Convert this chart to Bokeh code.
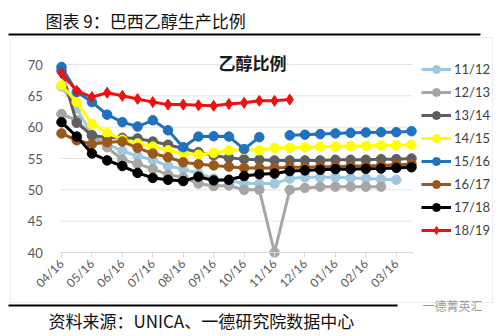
import math
from bokeh.plotting import figure
from bokeh.models import (Label, BoxAnnotation, Legend, LegendItem, FixedTicker,
                          Range1d, LinearAxis)
from bokeh.embed import file_html
from bokeh.resources import INLINE

month_labels = ["04/16", "05/16", "06/16", "07/16", "08/16", "09/16",
                "10/16", "11/16", "12/16", "01/16", "02/16", "03/16"]
idx = list(range(24))
nan = float("nan")

s_11_12 = [66.5, 63.0, 58.8, 57.3, 56.2, 55.4, 54.8, 53.8, 53.3, 52.6, 51.8, 51.5,
           51.0, 51.0, 51.0, 51.8, 52.0, 52.0, 52.0, 51.9, 51.8, 51.7, 51.6, nan]
s_12_13 = [62.1, 61.1, 58.6, 56.8, 54.8, 54.15, 53.35, 52.4, 52.0, 51.0, 50.6, 50.7,
           50.0, 50.0, 40.0, 50.0, 50.3, 50.5, 50.5, 50.5, 50.5, 50.5, nan, nan]
s_13_14 = [69.0, 60.7, 58.7, 58.3, 58.3, 58.2, 57.7, 57.2, 56.6, 56.0, 55.5, 55.1,
           54.9, 54.8, 54.7, 54.7, 54.7, 54.7, 54.8, 54.8, 54.8, 54.9, 54.9, 55.0]
s_14_15 = [66.7, 64.0, 60.5, 59.1, 58.0, 57.4, 56.9, 56.3, 55.8, 55.6, 55.9, 56.3,
           56.4, 56.3, 56.7, 56.7, 56.8, 56.9, 56.9, 57.0, 57.0, 57.1, 57.1, 57.2]
s_15_16 = [69.6, 65.6, 64.0, 62.0, 60.8, 60.1, 61.1, 59.5, 56.8, 58.5, 58.55, 58.5,
           56.5, 58.4, nan, 58.7, 58.8, 58.9, 59.0, 59.1, 59.15, 59.2, 59.2, 59.35]
s_16_17 = [59.0, 57.9, 57.3, 57.6, 57.7, 56.7, 55.8, 55.2, 54.4, 54.1, 53.9, 53.7,
           53.5, 53.5, 53.5, 53.6, 53.6, 53.7, 53.7, 53.8, 53.8, 53.9, 54.0, 54.1]
s_17_18 = [60.8, 58.5, 55.8, 54.7, 53.8, 52.7, 51.9, 51.6, 51.4, 52.1, 51.5, 51.6,
           52.2, 52.5, 52.6, 53.0, 53.1, 53.2, 53.3, 53.3, 53.35, 53.4, 53.5, 53.6]
s_18_19 = [68.6, 65.8, 64.8, 65.5, 65.0, 64.5, 64.0, 63.6, 63.6, 63.5, 63.4, 63.7,
           63.9, 64.2, 64.2, 64.4, nan, nan, nan, nan, nan, nan, nan, nan]

series_names = ["11/12", "12/13", "13/14", "14/15", "15/16", "16/17", "17/18", "18/19"]
series_values = [s_11_12, s_12_13, s_13_14, s_14_15, s_15_16, s_16_17, s_17_18, s_18_19]
colors = ["#9DC8E0", "#A6A6A6", "#5F5F5F", "#FFFF00", "#1F72BE", "#9C571C", "#000000", "#F01010"]
markers = ["circle"] * 7 + ["diamond"]
y_ticks = [40, 45, 50, 55, 60, 65, 70]

W, H = 500, 336
# plot area in canvas pixels
PX0, PX1 = 61, 411      # x of first / last point
PY70, PY40 = 64, 252    # y of 70 / 40
kx = (PX1 - PX0) / 23.0
ky = (PY40 - PY70) / 30.0
x_start = -PX0 / kx
x_end = x_start + W / kx
y_end = 70 + PY70 / ky
y_start = 40 - (H - PY40) / ky

p = figure(frame_width=W, frame_height=H, min_border=0,
           x_range=Range1d(x_start, x_end), y_range=Range1d(y_start, y_end),
           x_axis_location=None, y_axis_location=None,
           output_backend="svg", toolbar_location=None)
p.outline_line_color = None
p.background_fill_color = "white"
p.border_fill_color = "white"
p.xgrid.visible = False
p.ygrid.visible = False

XL, XR = -0.05, 23.1

# chart box and rules (screen units from canvas bottom-left)
def sbox(left, right, top, bottom, **kw):
    return BoxAnnotation(left=left, right=right, top=H - top, bottom=H - bottom,
                         left_units="screen", right_units="screen",
                         top_units="screen", bottom_units="screen", **kw)

p.add_layout(sbox(10, 492, 37, 302, fill_alpha=0, line_color="#C8C8C8", line_width=1))
p.add_layout(sbox(8, 480, 33, 35, fill_color="black", fill_alpha=1, line_alpha=0))
p.add_layout(sbox(8, 397, 304, 306, fill_color="black", fill_alpha=1, line_alpha=0))

# gridlines
p.segment(x0=[XL] * len(y_ticks), y0=y_ticks, x1=[XR] * len(y_ticks), y1=y_ticks,
          line_color="#E3E3E3", line_width=1)

items = []
for name, vals, col, mk in zip(series_names, series_values, colors, markers):
    r1 = p.line(idx, vals, line_color=col, line_width=3)
    sz = 11 if mk == "diamond" else 9.5
    r2 = p.scatter(idx, vals, marker=mk, size=sz, fill_color=col, line_color=col)
    items.append(LegendItem(label=name, renderers=[r1, r2]))

legend = Legend(items=items, location=(421, H - 240), orientation="vertical",
                glyph_width=30, glyph_height=20, label_height=20, spacing=3,
                padding=0, margin=0, border_line_color=None, background_fill_alpha=0,
                label_text_font_size="13px", label_text_font="Lato",
                label_text_color="#404040", label_standoff=3)
p.add_layout(legend)

# axes drawn at fixed locations inside the canvas
yaxis = LinearAxis(fixed_location=XL, bounds=(40, 70))
yaxis.ticker = FixedTicker(ticks=y_ticks)
yaxis.axis_line_color = None
yaxis.major_tick_line_color = None
yaxis.minor_tick_line_color = None
yaxis.major_label_standoff = 12
yaxis.major_label_text_font_size = "13px"
yaxis.major_label_text_font = "Lato"
yaxis.major_label_text_color = "#595959"
p.add_layout(yaxis, "left")

xaxis = LinearAxis(fixed_location=40, bounds=(XL, XR))
xaxis.ticker = FixedTicker(ticks=list(range(0, 24, 2)))
xaxis.major_label_overrides = {i * 2: lab for i, lab in enumerate(month_labels)}
xaxis.major_label_orientation = math.pi / 4
xaxis.axis_line_color = "#D9D9D9"
xaxis.major_tick_line_color = "#D9D9D9"
xaxis.major_tick_out = 5
xaxis.major_tick_in = 0
xaxis.minor_tick_line_color = None
xaxis.major_label_standoff = 4
xaxis.major_label_text_font_size = "12px"
xaxis.major_label_text_font = "Lato"
xaxis.major_label_text_color = "#595959"
p.add_layout(xaxis, "below")

def slabel(x, y, text, **kw):
    return Label(x=x, y=H - y, x_units="screen", y_units="screen", text=text,
                 text_baseline="middle", **kw)

p.add_layout(slabel(45, 20, "图表 9：巴西乙醇生产比例", text_font="Noto Sans CJK SC",
                    text_font_size="17px", text_color="#111111"))
p.add_layout(slabel(252, 62, "乙醇比例", text_font="Noto Sans CJK SC",
                    text_font_style="bold", text_font_size="17px",
                    text_color="#1A1A1A", text_align="center"))
p.add_layout(slabel(48, 320, "资料来源：UNICA、一德研究院数据中心",
                    text_font="Noto Sans CJK SC", text_font_size="17px",
                    text_color="#111111"))
p.add_layout(slabel(422, 305, "一德菁英汇", text_font="Noto Sans CJK SC",
                    text_font_size="12px", text_color="#9A9A9A"))

open("out.html", "w").write(file_html(p, INLINE))
